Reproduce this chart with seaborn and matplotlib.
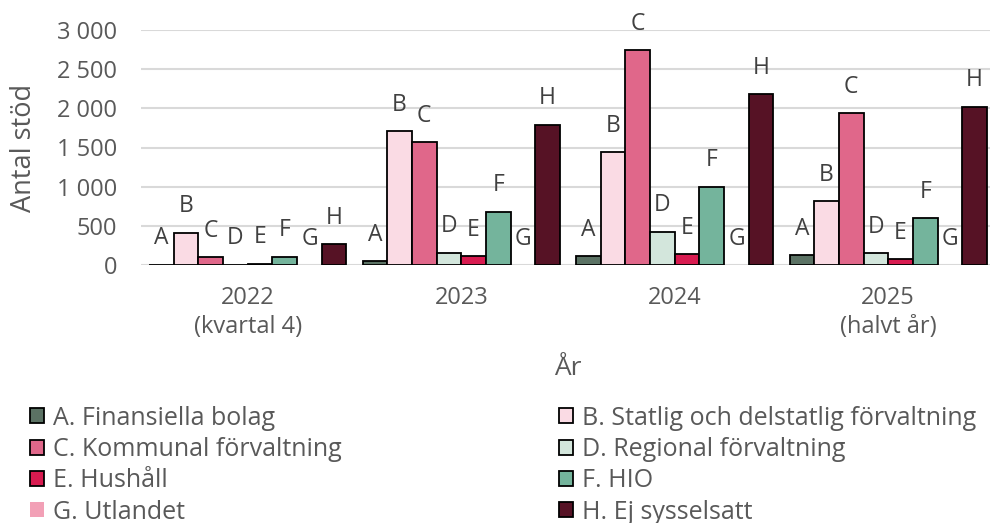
import numpy as np
import pandas as pd
import matplotlib
matplotlib.use("Agg")
import matplotlib.pyplot as plt
from matplotlib.patches import Patch
from matplotlib.ticker import FuncFormatter, MultipleLocator
import seaborn as sns

# ================= DATA =================
years = ["2022\n(kvartal 4)", "2023", "2024", "2025\n(halvt år)"]
letters = ["A", "B", "C", "D", "E", "F", "G", "H"]
sectors = [
    "A. Finansiella bolag",
    "B. Statlig och delstatlig förvaltning",
    "C. Kommunal förvaltning",
    "D. Regional förvaltning",
    "E. Hushåll",
    "F. HIO",
    "G. Utlandet",
    "H. Ej sysselsatt",
]
values = {
    "A": [4, 50, 115, 128],
    "B": [411, 1706, 1443, 815],
    "C": [98, 1570, 2745, 1937],
    "D": [5, 157, 425, 150],
    "E": [18, 115, 140, 74],
    "F": [106, 679, 1000, 596],
    "G": [0, 0, 0, 0],
    "H": [265, 1791, 2184, 2022],
}
colors = ["#5b7264", "#fadbe4", "#e0678a", "#d3e6dc",
          "#d81b50", "#74b49c", "#f2a0b6", "#561225"]

rows = []
for letter, sector in zip(letters, sectors):
    for year, v in zip(years, values[letter]):
        rows.append({"year": year, "sector": sector, "value": v})
df = pd.DataFrame(rows)

# ================= STYLE =================
sns.set_theme(style="white")
plt.rcParams["font.family"] = ["Open Sans", "DejaVu Sans"]
text_color = "#595959"

fig = plt.figure(figsize=(9.9, 5.23), dpi=100)
ax = fig.add_axes([141 / 990, 1 - 265 / 523, 854 / 990, 235 / 523])

sns.barplot(
    data=df, x="year", y="value", hue="sector",
    order=years, hue_order=sectors, palette=colors, saturation=1,
    width=0.925, edgecolor="black", linewidth=1.3,
    legend=False, ax=ax, zorder=3,
)

# no outline for the G bars (all zero)
for bars, sector in zip(ax.containers, sectors):
    if sector.startswith("G"):
        for p in bars:
            p.set_linewidth(0)

# ================= LETTER LABELS =================
for bars, letter in zip(ax.containers, letters):
    for p in bars:
        ax.annotate(
            letter, (p.get_x() + p.get_width() / 2, p.get_height()),
            xytext=(0, 19), textcoords="offset points",
            ha="center", va="center", fontsize=16.5, color="#404040",
        )

# ================= AXES =================
ax.set_ylim(0, 3000)
ax.set_xlim(-0.5, 3.5)
ax.yaxis.set_major_locator(MultipleLocator(500))
ax.yaxis.set_major_formatter(FuncFormatter(lambda v, _: f"{v:,.0f}".replace(",", " ")))
ax.grid(axis="y", color="#d9d9d9", linewidth=1.5, zorder=0)
ax.grid(axis="x", visible=False)
for s in ax.spines.values():
    s.set_visible(False)

ax.tick_params(axis="y", length=0, pad=17, labelsize=17, labelcolor=text_color)
ax.tick_params(axis="x", length=0, pad=15, labelsize=17, labelcolor=text_color)
for t in ax.get_xticklabels():
    t.set_linespacing(1.3)

ax.set_ylabel("Antal stöd", fontsize=19.5, color=text_color)
ax.yaxis.set_label_coords(-0.121, 0.5)
ax.set_xlabel("År", fontsize=19, color=text_color, labelpad=12)

# ================= LEGEND =================
handles = []
for sector, c in zip(sectors, colors):
    if sector.startswith("G"):
        handles.append(Patch(facecolor=c, edgecolor="none", label=sector))
    else:
        handles.append(Patch(facecolor=c, edgecolor="black", linewidth=1.3, label=sector))
order = [0, 2, 4, 6, 1, 3, 5, 7]
fig.legend(
    [handles[i] for i in order], [sectors[i] for i in order],
    loc="upper left", bbox_to_anchor=(0.018, 0.248), ncol=2,
    frameon=False, fontsize=18, labelcolor=text_color,
    handlelength=0.55, handleheight=0.55, handletextpad=0.35,
    columnspacing=8.7, labelspacing=0.25, borderpad=0,
)

plt.savefig("out.png", dpi=100)
